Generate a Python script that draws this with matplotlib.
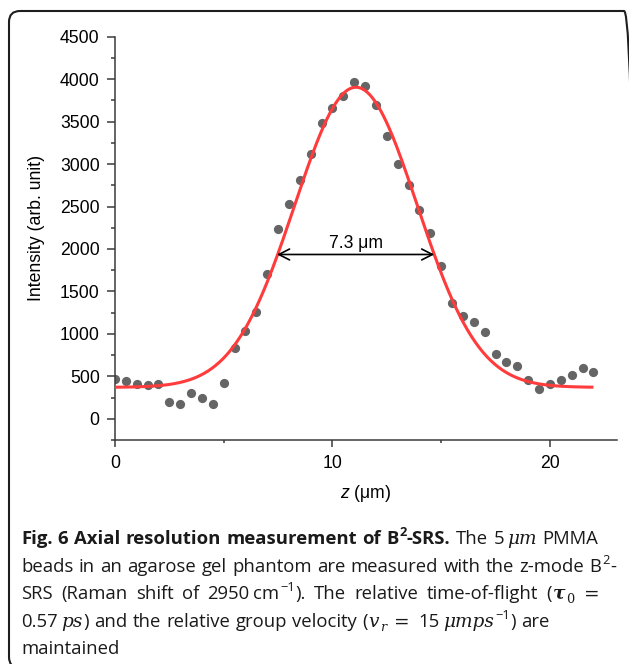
import numpy as np
import matplotlib
matplotlib.use("Agg")
import matplotlib.pyplot as plt
from matplotlib.patches import FancyBboxPatch
from matplotlib.ticker import MultipleLocator

# ---------------- data ----------------
z_um = [0, 0.5, 1, 1.5, 2, 2.5, 3, 3.5, 4, 4.5, 5, 5.5, 6, 6.5, 7, 7.5, 8, 8.5,
        9, 9.5, 10, 10.5, 11, 11.5, 12, 12.5, 13, 13.5, 14, 14.5, 15, 15.5,
        16, 16.5, 17, 17.5, 18, 18.5, 19, 19.5, 20, 20.5, 21, 21.5, 22]
intensity = [465, 445, 406, 398, 410, 203, 171, 300, 245, 171, 422, 839, 1034,
             1258, 1706, 2235, 2535, 2817, 3115, 3484, 3665, 3807, 3963, 3920,
             3693, 3327, 3006, 2758, 2464, 2190, 1796, 1364, 1215, 1145, 1022,
             768, 669, 618, 457, 356, 415, 457, 512, 603, 556]

# Gaussian fit parameters
fit_baseline = 370
fit_amplitude = 3535
fit_center = 11.08
fit_sigma = 2.82
fit_range = [0, 22]

fwhm_label = "7.3 μm"
fwhm_left, fwhm_right, fwhm_level = 7.45, 14.68, 1935

yticks = [0, 500, 1000, 1500, 2000, 2500, 3000, 3500, 4000, 4500]
xticks = [0, 10, 20]
xlabel_text = r"$z$ (μm)"
ylabel_text = "Intensity (arb. unit)"

# ---------------- figure ----------------
W, H = 629, 664
plt.rcParams["font.family"] = ["Liberation Sans", "DejaVu Sans"]
plt.rcParams["mathtext.fontset"] = "custom"
plt.rcParams["mathtext.rm"] = "Liberation Sans"
plt.rcParams["mathtext.it"] = "Liberation Sans:italic"

fig = plt.figure(figsize=(W / 100, H / 100), dpi=100)
fig.patch.set_facecolor("white")

ax_l, ax_r, ax_t, ax_b = 115, 616.7, 36.7, 440
ax = fig.add_axes([ax_l / W, 1 - ax_b / H, (ax_r - ax_l) / W, (ax_b - ax_t) / H])

zf = np.linspace(fit_range[0], fit_range[1], 500)
yf = fit_baseline + fit_amplitude * np.exp(-(zf - fit_center) ** 2 / (2 * fit_sigma ** 2))

ax.scatter(z_um, intensity, s=44, color="#656565", linewidths=0, zorder=2)
ax.plot(zf, yf, color="#ff3b3b", lw=2.2, zorder=3, solid_capstyle="butt")

ax.annotate("", xy=(fwhm_left, fwhm_level), xytext=(fwhm_right, fwhm_level),
            arrowprops=dict(arrowstyle="<->,head_length=0.55,head_width=0.28",
                            lw=1.2, color="black", shrinkA=0, shrinkB=0,
                            mutation_scale=14), zorder=4)
ax.text((fwhm_left + fwhm_right) / 2, 2015, fwhm_label, ha="center",
        va="baseline", fontsize=12.7, color="black")

ax.set_xlim(0, 23.07)
ax.set_ylim(-250, 4500)
ax.set_yticks(yticks)
ax.set_xticks(xticks)
ax.yaxis.set_minor_locator(MultipleLocator(250))
ax.xaxis.set_minor_locator(MultipleLocator(5))

for s in ["top", "right"]:
    ax.spines[s].set_visible(False)
for s in ["left", "bottom"]:
    ax.spines[s].set_linewidth(1.1)
    ax.spines[s].set_color("#3a3a3a")

ax.tick_params(axis="y", which="major", direction="out", length=5.5, width=1.1,
               color="#3a3a3a", labelsize=12.7, pad=5.5)
ax.tick_params(axis="y", which="minor", direction="out", length=2.7, width=1.1,
               color="#3a3a3a")
ax.tick_params(axis="x", which="major", direction="out", length=5, width=1.1,
               color="#3a3a3a", labelsize=12.7, pad=6)
ax.tick_params(axis="x", which="minor", direction="out", length=2.5, width=1.1,
               color="#3a3a3a")

ax.set_xlabel(xlabel_text, fontsize=12.7, labelpad=8)
ax.set_ylabel(ylabel_text, fontsize=12.7)
ax.yaxis.set_label_coords((45 - ax_l) / (ax_r - ax_l), (ax_b - 228) / (ax_b - ax_t))

# ---------------- border ----------------
border = FancyBboxPatch((9, H - 668), 626, 657,
                        boxstyle="round,pad=0,rounding_size=11",
                        transform=None, facecolor="none",
                        edgecolor="#1e1e1e", lw=1.5, zorder=10)
fig.patches.append(border)

# ---------------- caption ----------------
fig.canvas.draw()
renderer = fig.canvas.get_renderer()
cs = 13.3
CAP_FONT = ["Open Sans", "DejaVu Sans"]

styles = {
    "r": dict(family=CAP_FONT, fontsize=cs),
    "b": dict(family=CAP_FONT, fontsize=cs, fontweight="bold"),
    "i": dict(family=CAP_FONT, fontsize=cs, fontstyle="italic"),
    "sup": dict(family=CAP_FONT, fontsize=cs * 0.7),
    "bsup": dict(family=CAP_FONT, fontsize=cs * 0.7, fontweight="bold"),
    "sub": dict(family=["DejaVu Serif"], fontsize=cs * 0.7),
    "subi": dict(family=["DejaVu Serif"], fontsize=cs * 0.7, fontstyle="italic"),
    "tau": dict(family=["DejaVu Serif"], fontsize=cs, fontstyle="italic", fontweight="bold"),
    "mi": dict(family=["DejaVu Serif"], fontsize=cs, fontstyle="italic"),
    "eq": dict(family=["DejaVu Sans"], fontsize=cs),
}
dys = {"sup": 0.42, "bsup": 0.42, "sub": -0.2, "subi": -0.2}


def text_width(s, st):
    t = fig.text(0, 0, s, transform=None, **styles[st])
    w = t.get_window_extent(renderer).width
    t.remove()
    return w


space_cache = {}


def space_w(st):
    key = st if st in ("r", "b", "i") else "r"
    if key not in space_cache:
        space_cache[key] = text_width("| |", key) - text_width("||", key)
    return space_cache[key]


def tokenize(runs):
    toks = []
    for txt, st in runs:
        if st == "gap":
            toks.append(("gap", float(txt), st))
            continue
        pieces = txt.split(" ")
        for k, p in enumerate(pieces):
            if k > 0:
                toks.append(("space", space_w(st), st))
            if p:
                toks.append(("word", p, st))
    return toks


def draw_line(x0, baseline_y, runs, target=None):
    toks = tokenize(runs)
    widths = []
    for kind, val, st in toks:
        if kind == "word":
            widths.append(text_width(val, st) + 0.6)
        else:
            widths.append(val)
    extra = 0.0
    nsp = sum(1 for t in toks if t[0] == "space")
    if target is not None and nsp:
        extra = max(0.0, (target - (x0 + sum(widths))) / nsp)
    x = x0
    ybase = H - baseline_y
    for (kind, val, st), w in zip(toks, widths):
        if kind == "word":
            dy = dys.get(st, 0) * cs * 100 / 72
            fig.text(x, ybase + dy, val, transform=None, ha="left",
                     va="baseline", color="#1a1a1a", **styles[st])
            x += w
        elif kind == "space":
            x += w + extra
        else:
            x += w


caption = [
    [("Fig. 6 Axial resolution measurement of B", "b"), ("2", "bsup"),
     ("-SRS.", "b"), (" The 5", "r"), ("3", "gap"), ("μm", "mi"), (" PMMA", "r")],
    [("beads in an agarose gel phantom are measured with the z-mode B", "r"),
     ("2", "sup"), ("-", "r")],
    [("SRS (Raman shift of 2950", "r"), ("3", "gap"), ("cm", "r"), ("−1", "sup"),
     ("). The relative time-of-flight (", "r"), ("τ", "tau"), ("0", "sub"),
     ("9", "gap"), ("=", "eq")],
    [("0.57", "r"), ("3", "gap"), ("ps", "mi"),
     (") and the relative group velocity (", "r"), ("v", "mi"), ("r", "subi"),
     ("8", "gap"), ("=", "eq"), ("8", "gap"), ("15", "r"), ("3", "gap"), ("μmps", "mi"),
     ("−1", "sup"), (") are", "r")],
    [("maintained", "r")],
]
baselines = [544, 572, 599, 627, 654]
targets = [None, None, 600, None, None]
for runs, by, tg in zip(caption, baselines, targets):
    draw_line(21, by, runs, tg)

fig.savefig("out.png", dpi=100)
